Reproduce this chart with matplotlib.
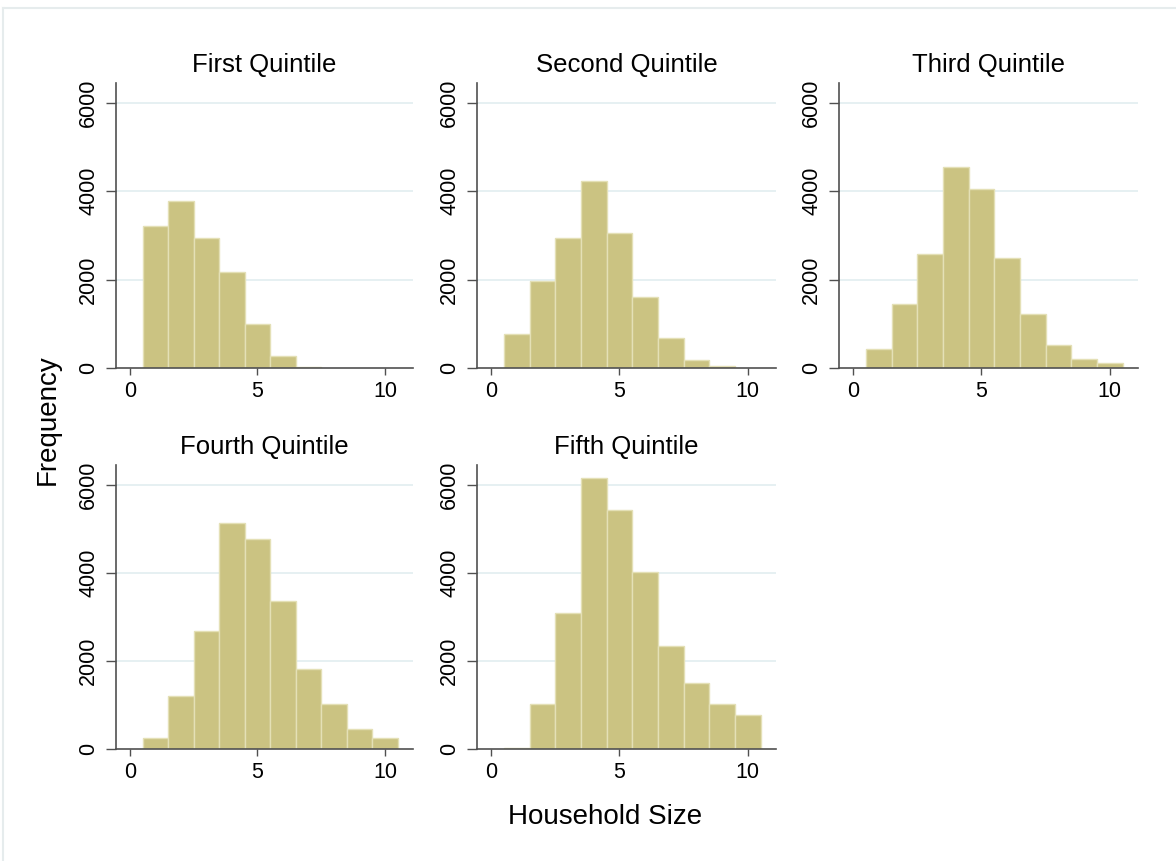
import numpy as np
import matplotlib
matplotlib.use("Agg")
import matplotlib.pyplot as plt
from matplotlib.lines import Line2D

plt.rcParams['font.family'] = ['Liberation Sans', 'DejaVu Sans']

## Data: counts per household size (1..10)
sizes = [1, 2, 3, 4, 5, 6, 7, 8, 9, 10]
titles = ['First Quintile', 'Second Quintile', 'Third Quintile',
          'Fourth Quintile', 'Fifth Quintile']
q1 = [3210, 3790, 2950, 2180, 1000, 270, 20, 0, 0, 0]
q2 = [760, 1970, 2950, 4240, 3060, 1610, 670, 190, 40, 0]
q3 = [420, 1440, 2590, 4560, 4040, 2480, 1230, 520, 200, 110]
q4 = [260, 1210, 2670, 5130, 4770, 3350, 1820, 1020, 450, 260]
q5 = [30, 1020, 3080, 6150, 5420, 4020, 2350, 1500, 1020, 780]
yticks = [0, 2000, 4000, 6000]
xticks = [0, 5, 10]

W, H = 1176, 861
fig = plt.figure(figsize=(W / 100, H / 100), dpi=100)
fig.patch.set_facecolor('white')

## Light frame around the graph region (top and left edges visible)
fig.add_artist(Line2D([3 / W, 1], [1 - 8 / H, 1 - 8 / H], color='#e6eced', lw=1.5))
fig.add_artist(Line2D([3 / W, 3 / W], [0, 1 - 8 / H], color='#e6eced', lw=1.5))

# panel boxes in pixels: left, right, top, bottom
boxes = [(116, 413, 83, 368), (477, 776, 83, 368), (839, 1138, 83, 368),
         (116, 413, 465, 749), (477, 776, 465, 749)]
series = [q1, q2, q3, q4, q5]

bar_color = '#cbc382'
edge_color = '#e4e0b6'
axis_color = '#505050'

for box, counts, title in zip(boxes, series, titles):
    l, r, t, b = box
    ax = fig.add_axes([l / W, 1 - b / H, (r - l) / W, (b - t) / H])
    xs = [s for s, c in zip(sizes, counts) if c > 0]
    hs = [c for c in counts if c > 0]
    ax.bar(xs, hs, width=1.0, color=bar_color, edgecolor=edge_color,
           linewidth=1.0, zorder=3)
    ax.set_xlim(-0.55, 11.1)
    ax.set_ylim(0, 6450)
    ax.set_yticks(yticks)
    ax.set_xticks(xticks)
    for yv in yticks[1:]:
        ax.axhline(yv, color='#e6f0f2', lw=1.4, zorder=1)
    for side in ['top', 'right']:
        ax.spines[side].set_visible(False)
    for side in ['left', 'bottom']:
        ax.spines[side].set_color(axis_color)
        ax.spines[side].set_linewidth(1.2)
        ax.spines[side].set_zorder(4)
    ax.tick_params(axis='y', length=7, width=1.0, color=axis_color,
                   labelsize=15.5, pad=5)
    ax.tick_params(axis='x', length=5, width=1.0, color=axis_color,
                   labelsize=15.5, pad=4)
    for lab in ax.get_yticklabels():
        lab.set_rotation(90)
        lab.set_va('center')
    ax.set_title(title, fontsize=18.5, pad=8)

fig.text(48 / W, 1 - 420 / H, 'Frequency', rotation=90, fontsize=20,
         ha='center', va='center')
fig.text(605 / W, 1 - 817 / H, 'Household Size', fontsize=20,
         ha='center', va='center')

fig.savefig('out.png', dpi=100)
